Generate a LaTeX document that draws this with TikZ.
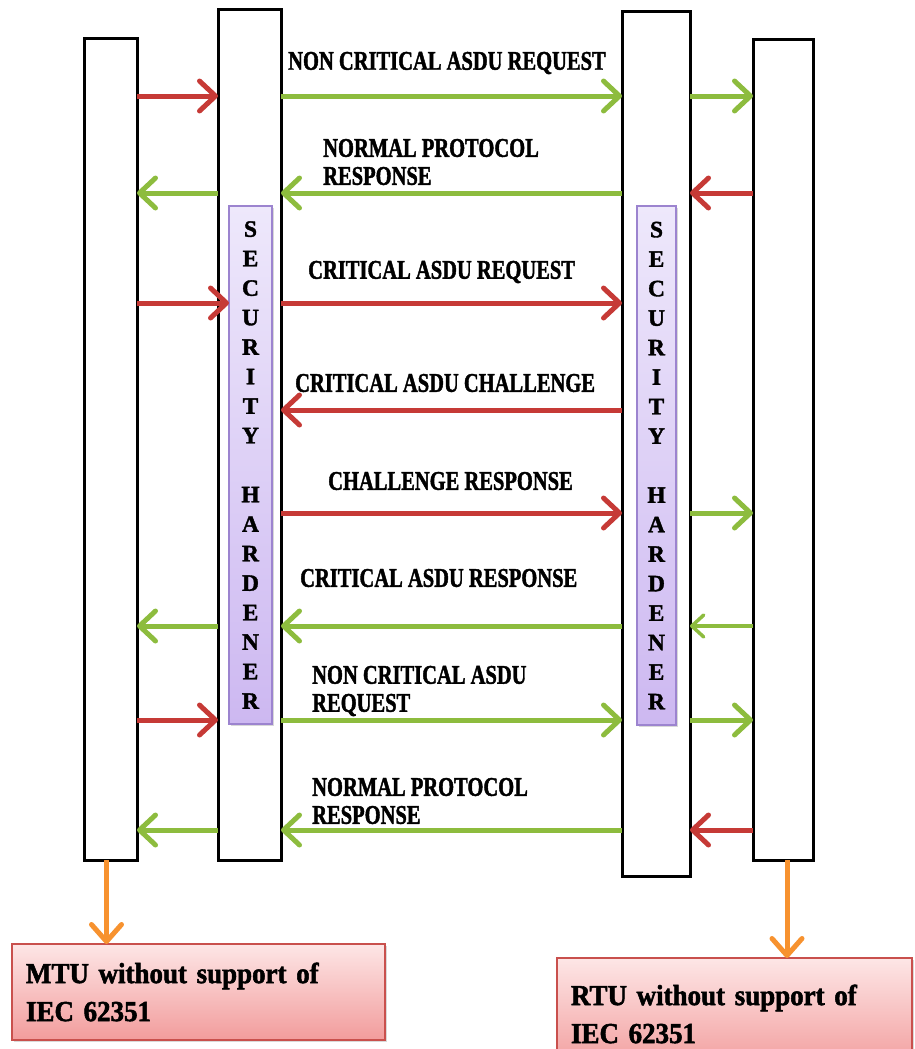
\documentclass[tikz,border=0pt]{standalone}
\usepackage{fontspec}
\setmainfont{Liberation Serif}
\newfontfamily\lblfont{Liberation Serif}[UprightFont=* Bold, FakeStretch=0.76, FakeBold=1.5]
\newfontfamily\secfont{Liberation Serif}[UprightFont=* Bold, FakeBold=1.5]
\newfontfamily\unitfont{Liberation Serif}[UprightFont=* Bold, FakeStretch=0.93, FakeBold=1.8]
\usetikzlibrary{arrows.meta,shadows}
\definecolor{arrred}{HTML}{C63A36}
\definecolor{arrgreen}{HTML}{8DBC3E}
\definecolor{arrorange}{HTML}{F7922F}
\definecolor{lavtop}{HTML}{EEE8FB}
\definecolor{lavbot}{HTML}{CDB8F1}
\definecolor{lavedge}{HTML}{9C84CF}
\definecolor{pinktop}{HTML}{FDE6E6}
\definecolor{pinkbot}{HTML}{F29C9C}
\definecolor{pinkedge}{HTML}{C9504D}
\begin{document}
\begin{tikzpicture}[x=1pt,y=-1pt,
 bar/.style={draw=black, line width=3pt, fill=white, inner sep=0pt, outer sep=0pt},
 secbox/.style={draw=lavedge, line width=1.5pt, top color=lavtop, bottom color=lavbot,
   inner sep=0pt, outer sep=0pt, align=center,
   font=\secfont\fontsize{23.5}{29.5}\selectfont,
   drop shadow={opacity=0.3, shadow xshift=2pt, shadow yshift=-2pt}},
 unitbox/.style={draw=pinkedge, line width=1.5pt, top color=pinktop, bottom color=pinkbot,
   inner xsep=14pt, inner ysep=0pt, outer sep=0pt, align=left, anchor=north west,
   font=\unitfont\fontsize{29}{38}\selectfont,
   drop shadow={opacity=0.3, shadow xshift=2pt, shadow yshift=-2pt}},
 flow/.style={line width=5pt, -{Straight Barb[length=16pt,width=30pt,round]}},
 redflow/.style={flow, draw=arrred},
 greenflow/.style={flow, draw=arrgreen},
 thinflow/.style={line width=3.5pt, draw=arrgreen, -{Straight Barb[length=12pt,width=22pt,round]}},
 orangeflow/.style={line width=5pt, draw=arrorange, -{Straight Barb[length=17pt,width=30pt,round]}},
 lbl/.style={font=\lblfont\fontsize{27}{28}\selectfont, inner sep=0pt, anchor=west, align=left}]
\useasboundingbox (0,0) rectangle (914,1049);

% bars
\node[bar, minimum width=53pt, minimum height=821pt] (b1) at (110.5,449.5) {};
\node[bar, minimum width=63pt, minimum height=850pt] (b2) at (249.5,435) {};
\node[bar, minimum width=68pt, minimum height=864pt] (b3) at (656,444) {};
\node[bar, minimum width=60pt, minimum height=820pt] (b4) at (783,450) {};

% security hardeners
\node[secbox, minimum width=43pt, minimum height=518pt] (s1) at (250.5,465)
  {S\\E\\C\\U\\R\\I\\T\\Y\\[29.5pt]H\\A\\R\\D\\E\\N\\E\\R};
\node[secbox, minimum width=39pt, minimum height=519pt] (s2) at (656.5,465.5)
  {S\\E\\C\\U\\R\\I\\T\\Y\\[29.5pt]H\\A\\R\\D\\E\\N\\E\\R};

% rows
\coordinate (r1) at (0,96);
\coordinate (r2) at (0,193);
\coordinate (r3) at (0,303);
\coordinate (r4) at (0,410);
\coordinate (r5) at (0,513);
\coordinate (r6) at (0,626);
\coordinate (r7) at (0,720);
\coordinate (r8) at (0,830);

% row 1
\draw[redflow]   (b1.east |- r1) -- (b2.west |- r1);
\draw[greenflow] (b2.east |- r1) -- (b3.west |- r1);
\draw[greenflow] (b3.east |- r1) -- (b4.west |- r1);
% row 2
\draw[greenflow] (b2.west |- r2) -- (b1.east |- r2);
\draw[greenflow] (b3.west |- r2) -- (b2.east |- r2);
\draw[redflow]   (b4.west |- r2) -- (b3.east |- r2);
% row 3
\draw[redflow]   (b1.east |- r3) -- (s1.west |- r3);
\draw[redflow]   (b2.east |- r3) -- (b3.west |- r3);
% row 4
\draw[redflow]   (b3.west |- r4) -- (b2.east |- r4);
% row 5
\draw[redflow]   (b2.east |- r5) -- (b3.west |- r5);
\draw[greenflow] (b3.east |- r5) -- (b4.west |- r5);
% row 6
\draw[greenflow] (b2.west |- r6) -- (b1.east |- r6);
\draw[greenflow] (b3.west |- r6) -- (b2.east |- r6);
\draw[thinflow]  (b4.west |- r6) -- (b3.east |- r6);
% row 7
\draw[redflow]   (b1.east |- r7) -- (b2.west |- r7);
\draw[greenflow] (b2.east |- r7) -- (b3.west |- r7);
\draw[greenflow] (b3.east |- r7) -- (b4.west |- r7);
% row 8
\draw[greenflow] (b2.west |- r8) -- (b1.east |- r8);
\draw[greenflow] (b3.west |- r8) -- (b2.east |- r8);
\draw[redflow]   (b4.west |- r8) -- (b3.east |- r8);

% labels
\node[lbl] (l1) at (288,63) {NON CRITICAL ASDU REQUEST};
\node[lbl] (l2) at (323,162) {NORMAL PROTOCOL\\RESPONSE};
\node[lbl] (l3) at (308,272) {CRITICAL ASDU REQUEST};
\node[lbl] (l4) at (295,383) {CRITICAL ASDU CHALLENGE};
\node[lbl] (l5) at (328,481) {CHALLENGE RESPONSE};
\node[lbl] (l6) at (300,578) {CRITICAL ASDU RESPONSE};
\node[lbl] (l7) at (312,691) {NON CRITICAL ASDU\\REQUEST};
\node[lbl] (l8) at (312,801) {NORMAL PROTOCOL\\RESPONSE};

% unit boxes
\node[unitbox, minimum width=373pt, minimum height=96pt, text width=345pt] (mtu) at (12,944)
  {MTU without support of\\IEC 62351};
\node[unitbox, minimum width=355pt, minimum height=112pt, text width=327pt] (rtu) at (557,958)
  {RTU without support of\\IEC 62351};

\draw[orangeflow] ([xshift=-4pt]b1.south) -- ([xshift=-4pt]b1.south |- mtu.north);
\draw[orangeflow] ([xshift=4pt]b4.south) -- ([xshift=4pt]b4.south |- rtu.north);
\end{tikzpicture}
\end{document}
